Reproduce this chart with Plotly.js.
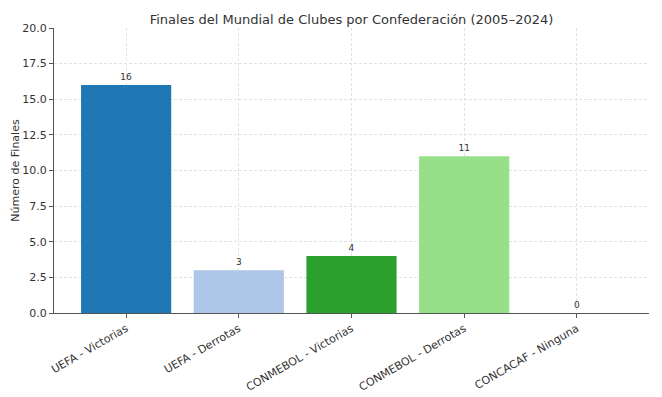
<!DOCTYPE html>
<html><head><meta charset="utf-8">
<script src="https://cdn.plot.ly/plotly-3.0.1.min.js"></script>
<style>body{margin:0;background:#fff}#c{width:662px;height:397px}</style>
</head><body><div id="c"></div>
<script>
const categories = ["UEFA - Victorias","UEFA - Derrotas","CONMEBOL - Victorias","CONMEBOL - Derrotas","CONCACAF - Ninguna"];
const values = [16, 3, 4, 11, 0];
const colors = ["#1f77b4","#aec7e8","#2ca02c","#98df8a","#d62728"];
const yTicks = [0, 2.5, 5, 7.5, 10, 12.5, 15, 17.5, 20];

const font = "DejaVu Sans, sans-serif";
const trace = {
  type: "bar",
  x: categories,
  y: values,
  marker: {color: colors},
  width: 0.8,
  text: values.map(String),
  textposition: "outside",
  textfont: {family: font, size: 9, color: "#333"},
  cliponaxis: false,
  hoverinfo: "none"
};
const layout = {
  width: 662, height: 397,
  margin: {l: 54, r: 13, t: 28, b: 84},
  paper_bgcolor: "#fff", plot_bgcolor: "#fff",
  showlegend: false,
  font: {family: font, size: 11, color: "#333"},
  title: {text: "Finales del Mundial de Clubes por Confederación (2005–2024)", font: {family: font, size: 13, color: "#333"}, x: 0.5, xref: "paper", xanchor: "center", y: 1, yref: "paper", yanchor: "bottom", pad: {b: 4}},
  xaxis: {
    type: "category",
    range: [-0.64, 4.64],
    tickangle: -30,
    ticks: "outside", ticklen: 4, tickcolor: "#555",
    showline: true, linecolor: "#555", linewidth: 1,
    showgrid: true, gridcolor: "#e2e2e2", griddash: "3px,2px", gridwidth: 1,
    tickfont: {family: font, size: 11, color: "#333"}
  },
  yaxis: {
    range: [0, 20],
    tickvals: yTicks,
    ticktext: yTicks.map(v => v.toFixed(1)),
    ticks: "outside", ticklen: 4, tickcolor: "#555",
    showline: true, linecolor: "#555", linewidth: 1,
    showgrid: true, gridcolor: "#e2e2e2", griddash: "3px,2px", gridwidth: 1,
    zeroline: false,
    tickfont: {family: font, size: 11, color: "#333"},
    title: {text: "Número de Finales", font: {family: font, size: 11, color: "#333"}, standoff: 0}
  },
  bargap: 0.2
};
Plotly.newPlot("c", [trace], layout, {displayModeBar: false, staticPlot: true});
</script></body></html>
